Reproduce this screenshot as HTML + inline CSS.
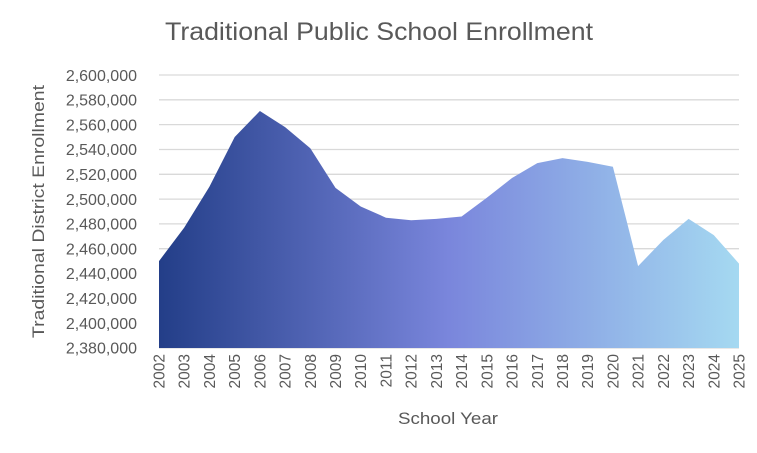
<!DOCTYPE html>
<html><head><meta charset="utf-8"><style>
body{margin:0;background:#fff;}
svg{display:block;font-family:"Liberation Sans",sans-serif;}
</style></head><body>
<svg width="757" height="453" viewBox="0 0 757 453">
<defs><linearGradient id="g" x1="159" x2="739" y1="0" y2="0" gradientUnits="userSpaceOnUse">
<stop offset="0" stop-color="#233e88"/><stop offset="0.5" stop-color="#7a86dc"/><stop offset="1" stop-color="#a5d9f1"/></linearGradient></defs>
<text x="165" y="40" font-size="25" fill="#595959" textLength="428" lengthAdjust="spacingAndGlyphs">Traditional Public School Enrollment</text>
<g stroke="#d9d9d9" stroke-width="1.3">
<line x1="159" x2="739" y1="75" y2="75"/><line x1="159" x2="739" y1="99.8" y2="99.8"/><line x1="159" x2="739" y1="124.6" y2="124.6"/><line x1="159" x2="739" y1="149.5" y2="149.5"/><line x1="159" x2="739" y1="174.3" y2="174.3"/><line x1="159" x2="739" y1="199.1" y2="199.1"/><line x1="159" x2="739" y1="223.9" y2="223.9"/><line x1="159" x2="739" y1="248.7" y2="248.7"/><line x1="159" x2="739" y1="273.5" y2="273.5"/><line x1="159" x2="739" y1="298.4" y2="298.4"/><line x1="159" x2="739" y1="323.2" y2="323.2"/><line x1="159" x2="739" y1="348" y2="348"/>
</g>
<polygon fill="url(#g)" points="159,348 159,261.1 184.2,227.6 209.4,186.7 234.7,137 259.9,111 285.1,127.1 310.3,148.2 335.5,187.9 360.7,206.5 386,217.7 411.2,220.2 436.4,218.9 461.6,216.5 486.8,197.8 512,178 537.3,163.1 562.5,158.1 587.7,161.9 612.9,166.8 638.1,266.1 663.3,240 688.6,218.9 713.8,235.1 739,263.6 739,348"/>
<g font-size="16" fill="#595959" text-anchor="end">
<text x="137" y="81">2,600,000</text><text x="137" y="105.5">2,580,000</text><text x="137" y="130.5">2,560,000</text><text x="137" y="155">2,540,000</text><text x="137" y="180">2,520,000</text><text x="137" y="205">2,500,000</text><text x="137" y="229.5">2,480,000</text><text x="137" y="254.5">2,460,000</text><text x="137" y="279">2,440,000</text><text x="137" y="304">2,420,000</text><text x="137" y="329">2,400,000</text><text x="137" y="353.5">2,380,000</text>
</g>
<g font-size="15.5" fill="#595959" text-anchor="end">
<text transform="translate(164.5,354) rotate(-90)">2002</text><text transform="translate(189.7,354) rotate(-90)">2003</text><text transform="translate(214.9,354) rotate(-90)">2004</text><text transform="translate(240.2,354) rotate(-90)">2005</text><text transform="translate(265.4,354) rotate(-90)">2006</text><text transform="translate(290.6,354) rotate(-90)">2007</text><text transform="translate(315.8,354) rotate(-90)">2008</text><text transform="translate(341,354) rotate(-90)">2009</text><text transform="translate(366.2,354) rotate(-90)">2010</text><text transform="translate(391.5,354) rotate(-90)">2011</text><text transform="translate(416.7,354) rotate(-90)">2012</text><text transform="translate(441.9,354) rotate(-90)">2013</text><text transform="translate(467.1,354) rotate(-90)">2014</text><text transform="translate(492.3,354) rotate(-90)">2015</text><text transform="translate(517.5,354) rotate(-90)">2016</text><text transform="translate(542.8,354) rotate(-90)">2017</text><text transform="translate(568,354) rotate(-90)">2018</text><text transform="translate(593.2,354) rotate(-90)">2019</text><text transform="translate(618.4,354) rotate(-90)">2020</text><text transform="translate(643.6,354) rotate(-90)">2021</text><text transform="translate(668.8,354) rotate(-90)">2022</text><text transform="translate(694.1,354) rotate(-90)">2023</text><text transform="translate(719.3,354) rotate(-90)">2024</text><text transform="translate(744.5,354) rotate(-90)">2025</text>
</g>
<text x="398" y="424" font-size="17" fill="#595959" textLength="100" lengthAdjust="spacingAndGlyphs">School Year</text>
<text transform="translate(44,338) rotate(-90)" font-size="17" fill="#595959" textLength="253" lengthAdjust="spacingAndGlyphs">Traditional District Enrollment</text>
</svg>
</body></html>
